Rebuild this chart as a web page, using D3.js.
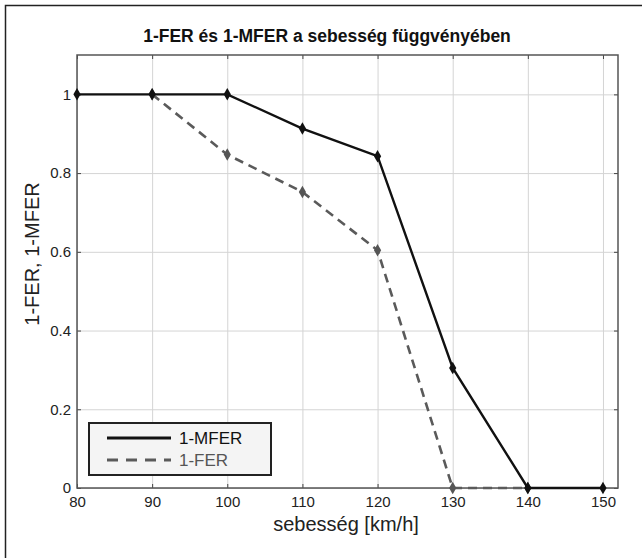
<!DOCTYPE html>
<html>
<head>
<meta charset="utf-8">
<script src="https://cdn.jsdelivr.net/npm/d3@7"></script>
<style>
  body { margin: 0; background: #fff; }
  svg { display: block; font-family: "Liberation Sans", Arial, sans-serif; }
</style>
</head>
<body>
<div id="chart"></div>
<script>
// data
const speeds = [80, 90, 100, 110, 120, 130, 140, 150];
const mferValues = [1, 1, 1, 0.913, 0.843, 0.305, 0, 0];
const ferSpeeds = [90, 100, 110, 120, 130, 140];
const ferValues = [1, 0.847, 0.752, 0.604, 0, 0];
const xTicks = [80, 90, 100, 110, 120, 130, 140, 150];
const yTicks = [0, 0.2, 0.4, 0.6, 0.8, 1];
const legendLabels = ["1-MFER", "1-FER"];

function drawChart() {
    const width = 642, height = 558;
    const left = 77, right = 618, top = 55, bottom = 488;

    const svg = d3.select("#chart")
        .append("svg")
        .attr("width", width)
        .attr("height", height)
        .attr("viewBox", [0, 0, width, height]);

    // outer frame (only top and left edges visible)
    svg.append("path")
        .attr("d", `M5.5,${height} L5.5,5.5 L${width},5.5`)
        .attr("fill", "none")
        .attr("stroke", "#222")
        .attr("stroke-width", 1.5);

    const x = d3.scaleLinear().domain([80, 152]).range([left, right]);
    const y = d3.scaleLinear().domain([0, 1.1]).range([bottom, top]);

    // grid
    const grid = svg.append("g").attr("stroke", "#d4d4d4").attr("stroke-width", 1);
    grid.selectAll("line.vx")
        .data(xTicks)
        .join("line")
        .attr("x1", (d) => x(d) + 0.5).attr("x2", (d) => x(d) + 0.5)
        .attr("y1", top).attr("y2", bottom);
    grid.selectAll("line.hy")
        .data(yTicks)
        .join("line")
        .attr("x1", left).attr("x2", right)
        .attr("y1", (d) => y(d) + 0.5).attr("y2", (d) => y(d) + 0.5);

    // axes with inward ticks
    const xAxis = svg.append("g")
        .attr("transform", `translate(0,${bottom})`)
        .call(d3.axisBottom(x).tickValues(xTicks).tickSizeInner(-4).tickSizeOuter(0).tickPadding(8));
    const yAxis = svg.append("g")
        .attr("transform", `translate(${left},0)`)
        .call(d3.axisLeft(y).tickValues(yTicks).tickFormat((d) => d3.format("")(d)).tickSizeInner(-4).tickSizeOuter(0).tickPadding(6));
    [xAxis, yAxis].forEach((a) => {
        a.select(".domain").remove();
        a.selectAll(".tick line").attr("stroke", "#444");
        a.selectAll("text")
            .attr("fill", "#222")
            .attr("font-size", 15)
            .attr("font-family", "Liberation Sans, Arial, sans-serif");
    });
    xAxis.selectAll("text").attr("dy", "0.71em");

    // top and right ticks
    svg.append("g").selectAll("line")
        .data(xTicks)
        .join("line")
        .attr("x1", (d) => x(d) + 0.5).attr("x2", (d) => x(d) + 0.5)
        .attr("y1", top).attr("y2", top + 4)
        .attr("stroke", "#444");
    svg.append("g").selectAll("line")
        .data(yTicks)
        .join("line")
        .attr("x1", right - 4).attr("x2", right)
        .attr("y1", (d) => y(d) + 0.5).attr("y2", (d) => y(d) + 0.5)
        .attr("stroke", "#444");

    // plot box
    svg.append("rect")
        .attr("x", left).attr("y", top)
        .attr("width", right - left).attr("height", bottom - top)
        .attr("fill", "none")
        .attr("stroke", "#555")
        .attr("stroke-width", 1.5);

    const line = d3.line().x((d) => x(d[0])).y((d) => y(d[1]));
    const diamond = d3.symbol().type(d3.symbolDiamond).size(45);

    // 1-FER (dashed gray)
    const ferData = ferSpeeds.map((s, i) => [s, ferValues[i]]);
    svg.append("path")
        .datum(ferData)
        .attr("fill", "none")
        .attr("stroke", "#5a5a5a")
        .attr("stroke-width", 2.6)
        .attr("stroke-dasharray", "9,6")
        .attr("d", line);
    svg.append("g").selectAll("path")
        .data(ferData)
        .join("path")
        .attr("transform", (d) => `translate(${x(d[0])},${y(d[1])})`)
        .attr("fill", "#555")
        .attr("d", diamond);

    // 1-MFER (solid black)
    const mferData = speeds.map((s, i) => [s, mferValues[i]]);
    svg.append("path")
        .datum(mferData)
        .attr("fill", "none")
        .attr("stroke", "#111")
        .attr("stroke-width", 2.4)
        .attr("d", line);
    svg.append("g").selectAll("path")
        .data(mferData)
        .join("path")
        .attr("transform", (d) => `translate(${x(d[0])},${y(d[1])})`)
        .attr("fill", "#111")
        .attr("d", diamond);

    // legend
    const legend = svg.append("g").attr("transform", "translate(89,423)");
    legend.append("rect")
        .attr("width", 182).attr("height", 52)
        .attr("fill", "#f4f4f4")
        .attr("stroke", "#222")
        .attr("stroke-width", 2);
    const legendStyles = [
        { color: "#111", dash: null, textColor: "#111" },
        { color: "#5a5a5a", dash: "11,8", textColor: "#555" },
    ];
    legendLabels.forEach((label, i) => {
        const ly = 15 + i * 22;
        legend.append("line")
            .attr("x1", 18).attr("x2", 82)
            .attr("y1", ly).attr("y2", ly)
            .attr("stroke", legendStyles[i].color)
            .attr("stroke-width", 3)
            .attr("stroke-dasharray", legendStyles[i].dash);
        legend.append("text")
            .attr("x", 90).attr("y", ly)
            .attr("dy", "0.36em")
            .attr("font-size", 17)
            .attr("fill", legendStyles[i].textColor)
            .text(label);
    });

    // title and axis labels
    svg.append("text")
        .attr("x", 327).attr("y", 42)
        .attr("text-anchor", "middle")
        .attr("font-size", 17.5)
        .attr("font-weight", "bold")
        .attr("fill", "#111")
        .text("1-FER és 1-MFER a sebesség függvényében");
    svg.append("text")
        .attr("x", 346).attr("y", 531)
        .attr("text-anchor", "middle")
        .attr("font-size", 20)
        .attr("fill", "#222")
        .text("sebesség [km/h]");
    svg.append("text")
        .attr("transform", "translate(39,254) rotate(-90)")
        .attr("text-anchor", "middle")
        .attr("font-size", 20)
        .attr("fill", "#222")
        .text("1-FER, 1-MFER");
}

drawChart();
</script>
</body>
</html>
